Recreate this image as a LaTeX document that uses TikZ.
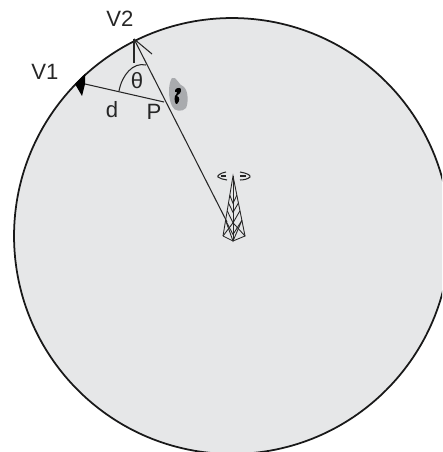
\documentclass[tikz,border=0pt]{standalone}
\usepackage{fontspec}
\setmainfont{Liberation Sans}
\usetikzlibrary{calc}
\definecolor{cellgray}{HTML}{E6E7E8}
\definecolor{blobgray}{HTML}{A9ABAE}
\tikzset{
  lab/.style={font=\fontsize{12.6}{14}\selectfont, inner sep=0pt, text=black!85},
  ray/.style={draw=black!85, line width=0.6pt},
  lat/.style={draw=black!85, line width=0.5pt},
}
\begin{document}
\begin{tikzpicture}[x=0.02cm,y=-0.02cm]
    \useasboundingbox (0,0) rectangle (442,452);
    \clip (0,0) rectangle (442,452);
    \fill[cellgray] (232,236) circle[radius=4.36cm];
    \draw[black!90, line width=1pt] (232,236) circle[radius=4.36cm];
    \coordinate (v1) at (85,84);
    \coordinate (v2) at (134,39);
    \coordinate (p) at (164,102);
    \coordinate (base) at (227,222);
    \coordinate (up) at (134,63);
    \coordinate (tip) at (152,54);
    \coordinate (thA) at (119,91);
    \coordinate (thB) at (146,65);
    \node[lab] (lv1) at (45,72) {V1};
    \node[lab] (lv2) at (120,19) {V2};
    \node[lab] (lth) at (137,81) {θ};
    \node[lab] (ld) at (112,110) {d};
    \node[lab] (lp) at (154,112) {P};
    % sector lines
    \draw[ray] (v1) -- (p);
    \draw[ray] (v2) -- (base);
    \draw[ray] (v2) -- (up);
    \draw[ray] (v2) -- (tip);
    \draw[ray] (thA) .. controls (122,75) and (133,62) .. (thB);
    \fill[black] (85,74) -- (75,84) -- (82,96) -- (v1) -- cycle;
    % phone
    \fill[blobgray] (172,78) .. controls (177,76) and (178,85) .. (184,87)
      .. controls (189,92) and (188,104) .. (186,108)
      .. controls (183,112) and (174,112) .. (172,106)
      .. controls (168,98) and (168,84) .. (172,78) -- cycle;
    \fill[black] (175,90) .. controls (177,87) and (182,87) .. (181,91)
      .. controls (180,95) and (177,94) .. (177,96)
      .. controls (180,97) and (180,101) .. (177,104)
      .. controls (175,105) and (174,99) .. (175,96)
      .. controls (177,94) and (178,91) .. (175,92) -- cycle;
    % tower
    \coordinate (top) at (233,176);
    \coordinate (footL) at (223,236);
    \coordinate (footM) at (233,241);
    \coordinate (footR) at (245,236);
    \draw[lat] (footL) -- (top) -- (footR) -- (footM) -- (footL);
    \draw[lat] (top) -- (footM);
    \foreach \t/\s in {0.32/0.42,0.45/0.56,0.58/0.72,0.74/0.9}{
      \draw[lat] ($(top)!\t!(footL)$) -- ($(top)!\s!(footM)$) -- ($(top)!\t!(footR)$);
    }
    \draw[lat] ($(top)!0.74!(footL)$) -- (footM) -- ($(top)!0.74!(footR)$);
    \draw[lat] (footL) -- ($(top)!0.72!(footM)$) -- (footR);
    % waves
    \draw[lat, line width=0.6pt] (226,172) .. controls (220,173) and (217,176) .. (218,177)
      .. controls (220,179) and (223,179) .. (227,180);
    \draw[lat, line width=0.6pt] (226,176) -- (221,176);
    \draw[lat, line width=0.6pt] (240,172) .. controls (246,173) and (251,175) .. (250,177)
      .. controls (248,179) and (244,180) .. (240,180);
    \draw[lat, line width=0.6pt] (240,176) -- (246,176);
  \end{tikzpicture}
\end{document}
